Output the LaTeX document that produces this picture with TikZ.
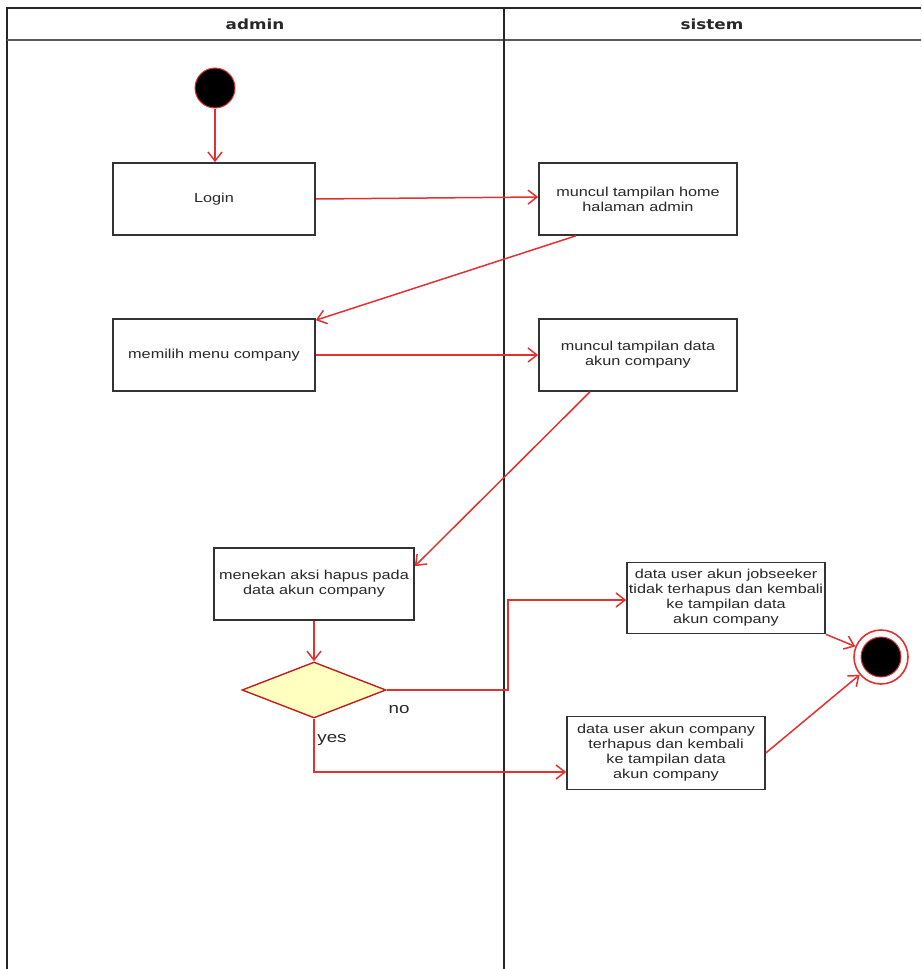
\documentclass[tikz,border=0pt]{standalone}
\usepackage{fontspec}
\setmainfont{Liberation Sans}[FakeStretch=1.25]
\newfontfamily\headfont{DejaVu Sans}[FakeStretch=1.2]
\usetikzlibrary{shapes.geometric,arrows.meta}
\definecolor{flowred}{RGB}{225,50,50}
\definecolor{darkflowred}{RGB}{190,30,30}
\definecolor{decfill}{RGB}{255,255,192}
\definecolor{textgray}{RGB}{40,40,40}
\tikzset{
  lane/.style={draw=black!85,line width=1.8pt},
  act/.style={draw=black!80,line width=1.6pt,rectangle,align=center,inner sep=1pt,
    text=textgray,font=\fontsize{13}{15}\selectfont},
  flow/.style={draw=flowred,line width=1.5pt,-{Straight Barb[length=9pt,width=14pt,line width=1.5pt]}},
  lbl/.style={font=\fontsize{15}{18}\selectfont,inner sep=0pt,text=textgray}
}
\begin{document}
\begin{tikzpicture}[x=1pt,y=-1pt]
\useasboundingbox[fill=white] (0,0) rectangle (921,969);
% swimlanes
\draw[lane] (921,8) -- (7,8) -- (7,969);
\draw[lane,draw=black!65,line width=2pt] (7,40) -- (921,40);
\draw[lane] (504,8) -- (504,969);
\node[font=\headfont\bfseries\fontsize{14}{16}\selectfont,text=textgray] (hadmin) at (255,24) {admin};
\node[font=\headfont\bfseries\fontsize{14}{16}\selectfont,text=textgray] (hsistem) at (712,24) {sistem};
% nodes
\node[circle,fill=black,draw=flowred,line width=1pt,minimum size=40pt,inner sep=0pt] (start) at (215,88) {};
\node[act,minimum width=202pt,minimum height=72pt] (login) at (214,199) {Login};
\node[act,minimum width=198pt,minimum height=72pt] (home) at (638,199) {muncul tampilan home\\halaman admin};
\node[act,minimum width=202pt,minimum height=72pt] (menu) at (214,355) {memilih menu company};
\node[act,minimum width=198pt,minimum height=72pt] (data) at (638,355) {muncul tampilan data\\akun company};
\node[act,minimum width=200pt,minimum height=72pt] (hapus) at (314,584) {menekan aksi hapus pada\\data akun company};
\node[diamond,draw=darkflowred,fill=decfill,line width=1.4pt,minimum width=144pt,minimum height=56pt,inner sep=0pt,aspect=2.57] (dec) at (314,690) {};
\node[act,minimum width=198pt,minimum height=71pt] (job) at (726,598) {data user akun jobseeker\\tidak terhapus dan kembali\\ke tampilan data\\akun company};
\node[act,minimum width=198pt,minimum height=73pt] (comp) at (666,753) {data user akun company\\terhapus dan kembali\\ke tampilan data\\akun company};
\node[circle,draw=flowred,fill=white,line width=1.6pt,minimum size=54pt,inner sep=0pt] (end) at (881,657) {};
\node[circle,fill=black,draw=flowred,line width=1pt,minimum size=40pt,inner sep=0pt] (endin) at (881,657) {};
% flows
\draw[flow] (start.south) -- (start.south |- login.north);
\draw[flow] (login.east) -- ([yshift=2pt]home.west);
\draw[flow] ([xshift=-62pt]home.south) -- ([yshift=-2pt]menu.north east);
\draw[flow] (menu.east) -- (data.west);
\draw[flow] ([xshift=-48pt]data.south) -- ([yshift=-19pt]hapus.north east);
\draw[flow] (hapus.south) -- (dec.north);
\coordinate (nobend) at (508,690);
\draw[flow] (dec.east) -- (nobend) |- ([yshift=-2pt]job.west);
\draw[flow] (dec.south) |- ([yshift=-19pt]comp.west);
\draw[flow] (job.south east) -- (end);
\draw[flow] (comp.east) -- (end);
% labels
\node[lbl] (lno) at (399,710) {no};
\node[lbl] (lyes) at (332,740) {yes};
\end{tikzpicture}
\end{document}
